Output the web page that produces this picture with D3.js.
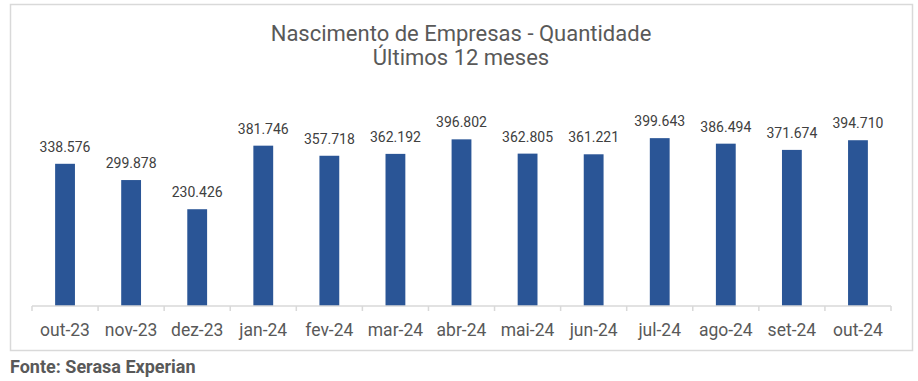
<!DOCTYPE html>
<html><head><meta charset="utf-8">
<script src="https://cdn.jsdelivr.net/npm/d3@7"></script>
<style>body{margin:0;background:#fff;}svg{display:block;font-family:Roboto,"Noto Sans",sans-serif;}</style>
</head><body><div id="chart"></div>
<script>
const categories = ["out-23","nov-23","dez-23","jan-24","fev-24","mar-24","abr-24","mai-24","jun-24","jul-24","ago-24","set-24","out-24"];
const values = [338576,299878,230426,381746,357718,362192,396802,362805,361221,399643,386494,371674,394710];
const valueLabels = ["338.576","299.878","230.426","381.746","357.718","362.192","396.802","362.805","361.221","399.643","386.494","371.674","394.710"];
const titleLines = ["Nascimento de Empresas - Quantidade","Últimos 12 meses"];
const sourceText = "Fonte: Serasa Experian";

const W = 918, H = 381;
const svg = d3.select("#chart").append("svg").attr("width", W).attr("height", H);

svg.append("rect").attr("x", 10.5).attr("y", 4.5).attr("width", 902).attr("height", 346)
  .attr("fill", "#fff").attr("stroke", "#d9d9d9").attr("stroke-width", 1.5);

svg.selectAll("text.title").data(titleLines).join("text").attr("class","title")
  .attr("x", 461).attr("y", (d,i) => 41 + i*24).attr("text-anchor","middle")
  .attr("font-size", 22).attr("fill", "#595959").text(d => d);

const x = d3.scaleBand().domain(categories).range([32, 891]).paddingInner(0.7).paddingOuter(0.35);
const y = d3.scaleLinear().domain([0, 450000]).range([306, 117]);

svg.append("g").selectAll("rect").data(values).join("rect")
  .attr("x", (d,i) => x(categories[i])).attr("width", x.bandwidth())
  .attr("y", d => y(d)).attr("height", d => y(0) - y(d)).attr("fill", "#2A5596");

svg.append("g").selectAll("text").data(values).join("text")
  .attr("x", (d,i) => x(categories[i]) + x.bandwidth()/2).attr("y", d => y(d) - 12)
  .attr("text-anchor","middle").attr("font-size", 14).attr("fill", "#404040")
  .text((d,i) => valueLabels[i]);

// axis
const xb = d3.scaleBand().domain(categories).range([32, 891]);
const ax = svg.append("g").attr("transform", "translate(0,306)");
ax.append("line").attr("x1", 32).attr("x2", 891).attr("stroke", "#d9d9d9").attr("stroke-width", 1.5);
const ticks = categories.map(c => xb(c)).concat([891]);
ax.selectAll("line.t").data(ticks).join("line").attr("class","t")
  .attr("x1", d => d).attr("x2", d => d).attr("y1", 0).attr("y2", 5)
  .attr("stroke", "#d9d9d9").attr("stroke-width", 1.5);
ax.selectAll("text").data(categories).join("text")
  .attr("x", d => xb(d) + xb.bandwidth()/2).attr("y", 29.5)
  .attr("text-anchor","middle").attr("font-size", 17.5).attr("fill", "#595959").text(d => d);

svg.append("text").attr("x", 10).attr("y", 373).attr("font-size", 18).attr("font-weight","bold")
  .attr("fill", "#595959").text(sourceText);
</script></body></html>
